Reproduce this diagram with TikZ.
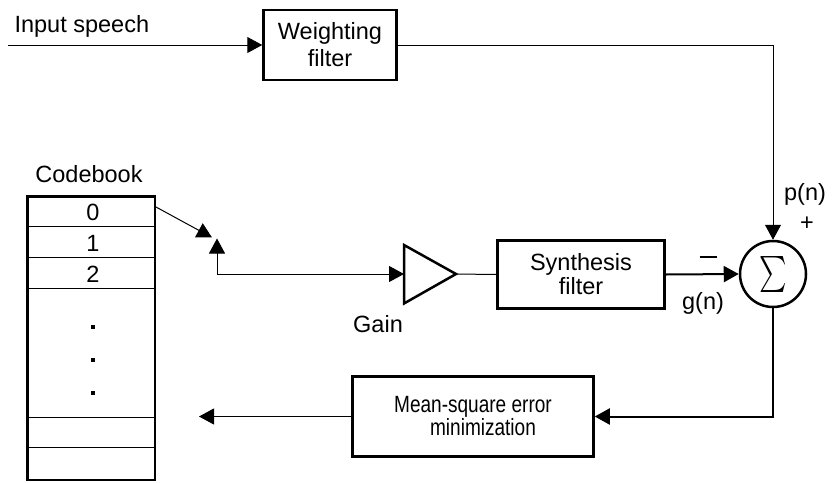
\documentclass[tikz,border=0pt]{standalone}
\usepackage{fontspec}
\setmainfont{Liberation Sans}
\newfontfamily\narrowsans[FakeStretch=0.81]{Liberation Sans}
\usetikzlibrary{arrows.meta}
\usetikzlibrary{calc}
\tikzset{
    block/.style={draw, line width=2.5pt, align=center, inner sep=0pt},
    wire/.style={line width=1pt},
    fatwire/.style={line width=2pt},
    tip/.style={-{Triangle[length=15pt, width=16pt]}}
}

\begin{document}
\begin{tikzpicture}[x=1pt, y=-1pt, font=\fontsize{23.5}{24}\selectfont]
        \useasboundingbox[fill=white] (0,0) rectangle (832,482);

        % Weighting filter
        \node[block, minimum width=133pt, minimum height=70pt,
              font=\fontsize{23.5}{27}\selectfont] (weight) at (330,45) {Weighting\\filter};
        \coordinate (speech) at (8,45);
        \node[anchor=base west] (speechlbl) at (11,32) {Input speech};

        % Summing junction
        \node[draw, circle, line width=2.5pt, minimum size=66pt, inner sep=0pt] (sum) at (773,274)
            {\fontsize{10}{10}\selectfont\scalebox{2.6}[3.6]{$\sum$}};
        \node[anchor=base] (plbl) at (805,200) {p(n)};
        \node[anchor=base] (plus) at (807,230) {+};

        % Synthesis filter
        \node[block, minimum width=167pt, minimum height=68pt] (synth) at (581,274.5) {Synthesis\\filter};
        \node (minus) at (708,257) {\rule{17pt}{1.6pt}};
        \node[anchor=base] (glbl) at (703,309) {g(n)};

        % Gain
        \coordinate (gainin) at (404,274);
        \coordinate (gainout) at (456,274);
        \draw[line width=2.5pt, line join=miter] (404,245) -- (gainout) -- (404,303.5) -- cycle;
        \node[anchor=base] (gainlbl) at (378,332) {Gain};

        % Mean-square error minimization
        \node[block, minimum width=241pt, minimum height=80pt, font=\narrowsans\fontsize{23.5}{23}\selectfont]
            (mse) at (473,416.5) {Mean-square error\\\hspace*{20pt}minimization};

        % Codebook
        \node[draw, line width=2.5pt, minimum width=127.5pt, minimum height=283.5pt, inner sep=0pt]
            (codebook) at (91,338) {};
        \node[anchor=base] (cblbl) at (89,182) {Codebook};
        \foreach \y in {226, 257, 288, 417, 447} {
            \draw[wire] (27,\y) -- (155,\y);
        }
        \foreach \d/\y in {0/220, 1/251, 2/282} {
            \node[anchor=base] (row\d) at (93,\y) {\d};
        }
        \foreach \y in {327, 360, 393} {
            \fill (91,\y-2) rectangle ++(4,4);
        }

        % Switch contacts
        \coordinate (swfrom) at (156,207);
        \coordinate (swtip) at (212,237.5);
        \coordinate (swpost) at (217,274);
        \coordinate (swup) at (217,238.5);
        \coordinate (cbin) at (199,416.5);

        % Connectors
        \draw[wire, tip] (speech) -- (weight.west);
        \draw[wire, tip] (weight.east) -| (sum.north);
        \draw[wire, tip] (swfrom) -- (swtip);
        \draw[wire, tip] (swpost) -- (swup);
        \draw[wire, tip] (swpost) -- (gainin);
        \draw[wire] (gainout) -- (synth.west);
        \draw[fatwire, tip] (synth.east) -- (sum.west);
        \draw[fatwire, tip] (sum.south) |- (mse.east);
        \draw[wire, tip] (mse.west) -- (cbin);

    \end{tikzpicture}
\end{document}
